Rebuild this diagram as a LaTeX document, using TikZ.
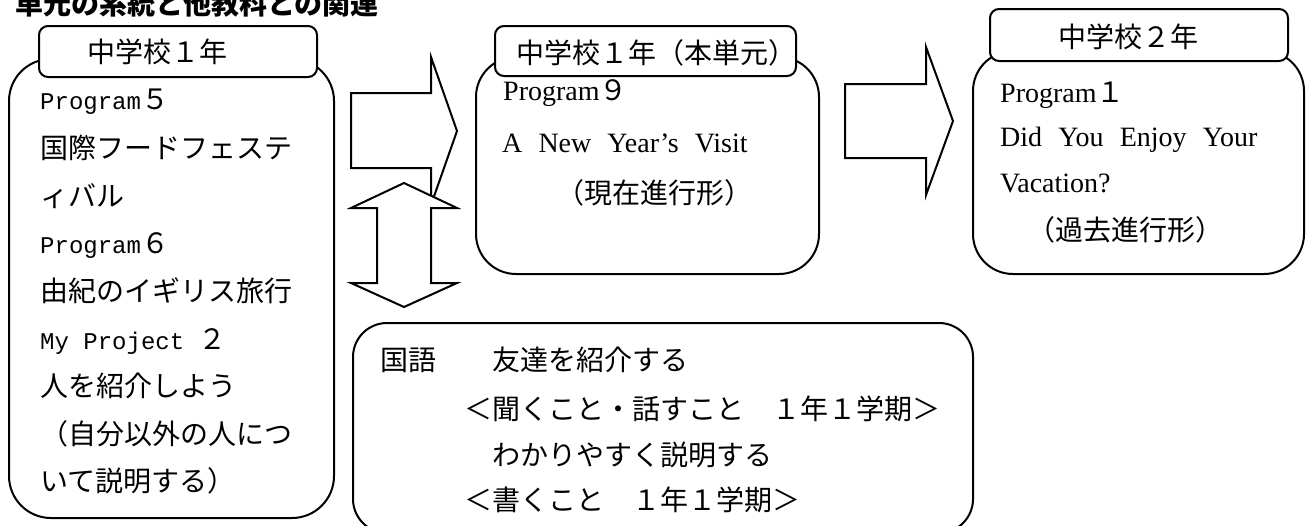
\documentclass[tikz,border=0pt]{standalone}
\usepackage{fontspec}
\setmainfont{Liberation Serif}
\newfontfamily\jp{Noto Sans CJK JP}
\newfontfamily\monof{Liberation Mono}
\newfontfamily\serf{Liberation Serif}[WordSpace=2.3]
\newcommand\mo[1]{{\monof\fontsize{24}{28}\selectfont #1}}
\newcommand\se[1]{{\serf\fontsize{28}{32}\selectfont #1}}
\begin{document}
\begin{tikzpicture}[x=1pt,y=-1pt,
  outline/.style={draw=black, line width=2pt, fill=white},
  box/.style={outline, inner sep=0pt, anchor=north west, rounded corners=#1},
  blockarrow/.style={outline, line join=miter},
  txt/.style={anchor=base west, inner sep=0pt, text=black, font=\jp\fontsize{28}{32}\selectfont},
  title/.style={txt, font=\jp\bfseries\fontsize{28}{32}\selectfont}]
\useasboundingbox (0,0) rectangle (1311,525);
\clip (0,0) rectangle (1311,525);
\fill[white] (0,0) rectangle (1311,525);

% outer boxes
\node[box=42pt, minimum width=325pt, minimum height=459pt] (L) at (8,58) {};
\node[box=40pt, minimum width=343pt, minimum height=217pt] (M) at (475,56) {};
\node[box=40pt, minimum width=331pt, minimum height=223pt] (R) at (972,50) {};
\node[box=34pt, minimum width=620pt, minimum height=210pt] (B) at (352,322) {};
% tabs
\node[box=9pt, minimum width=278pt, minimum height=51pt] (Lt) at (38,25) {};
\node[box=9pt, minimum width=301pt, minimum height=50pt] (Mt) at (494,25) {};
\node[box=9pt, minimum width=298pt, minimum height=52pt] (Rt) at (989,8) {};

% block arrows
\draw[blockarrow] (351,93) -- (431,93) -- (431,57) -- (457,131) -- (431,205) -- (431,168) -- (351,168) -- cycle;
\draw[blockarrow] (404,183) -- (457,208) -- (431,208) -- (431,283) -- (457,283) -- (404,307)
   -- (351,283) -- (377,283) -- (377,208) -- (351,208) -- cycle;
\draw[blockarrow] (845,84) -- (926,84) -- (926,47) -- (953,121) -- (926,195) -- (926,158) -- (845,158) -- cycle;

% title
\node[title] (ttl) at (15,14.5) {単元の系統と他教科との関連};

% tab labels
\node[txt] (lt) at (87,62) {中学校１年};
\node[txt] (mt) at (516,63) {中学校１年（本単元）};
\node[txt] (rt) at (1058,47) {中学校２年};

% left box
\node[txt] (l1) at (40,109) {\mo{Program}５};
\node[txt] (l2) at (40,158) {国際フードフェステ};
\node[txt] (l3) at (40,206) {ィバル};
\node[txt] (l4) at (40,253) {\mo{Program}６};
\node[txt] (l5) at (40,301) {由紀のイギリス旅行};
\node[txt] (l6) at (40,349) {\mo{My Project }２};
\node[txt] (l7) at (40,396) {人を紹介しよう};
\node[txt] (l8) at (40,444) {（自分以外の人につ};
\node[txt] (l9) at (40,491) {いて説明する）};
% middle box
\node[txt] (m1) at (503,100) {\se{Program}９};
\node[txt] (m2) at (502,152) {\se{A New Year’s Visit}};
\node[txt] (m3) at (556,203) {（現在進行形）};
% right box
\node[txt] (r1) at (1000,102) {\se{Program}１};
\node[txt] (r2) at (1000,146) {\se{Did You Enjoy Your}};
\node[txt] (r3) at (1000,192) {\se{Vacation?}};
\node[txt] (r4) at (1027,240) {（過去進行形）};
% bottom box
\node[txt] (b1) at (380,370) {国語　　友達を紹介する};
\node[txt] (b2) at (436,419) {　＜聞くこと・話すこと　１年１学期＞};
\node[txt] (b3) at (436,465) {　　わかりやすく説明する};
\node[txt] (b4) at (436,510) {　＜書くこと　１年１学期＞};
\end{tikzpicture}
\end{document}
